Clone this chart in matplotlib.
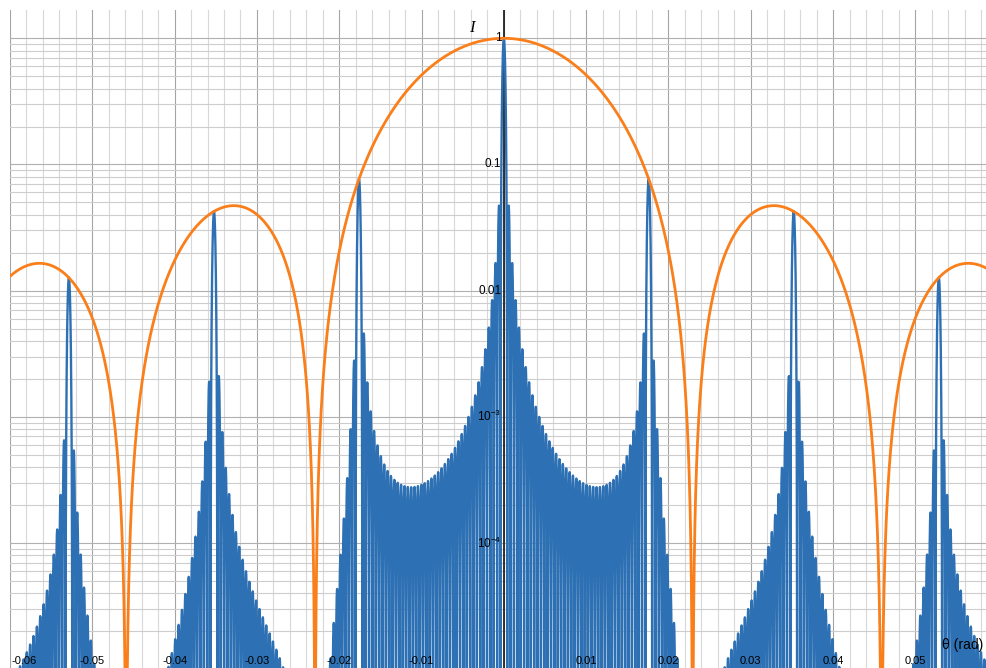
import numpy as np
import matplotlib.pyplot as plt
import matplotlib.transforms as mtransforms

# Grating, in units of the wavelength
slit_width = 43.6      # envelope zeros at about +-0.0229 rad
slit_spacing = 56.8    # principal maxima at about +-0.0176 rad
n_slits = 43

theta_limits = (-0.06, 0.0587)
intensity_limits = (10 ** -4.99, 1.676)

x_ticks = [-0.06, -0.05, -0.04, -0.03, -0.02, -0.01, 0.01, 0.02, 0.03, 0.04, 0.05]
x_tick_labels = ['-0.06', '-0.05', '-0.04', '-0.03', '-0.02', '-0.01',
                 '0.01', '0.02', '0.03', '0.04', '0.05']
y_ticks = [1, 0.1, 0.01, 1e-3, 1e-4]
y_tick_labels = ['1', '0.1', '0.01', r'$10^{-3}$', r'$10^{-4}$']

blue = '#2d70b3'
orange = '#fa7e19'

plt.rcParams['font.family'] = ['Liberation Sans', 'DejaVu Sans']
plt.rcParams['mathtext.fontset'] = 'custom'
plt.rcParams['mathtext.rm'] = 'Liberation Sans'
plt.rcParams['mathtext.it'] = 'Liberation Sans:italic'


def grating_curves(theta):
    # single slit envelope and the full N-slit pattern
    s = np.sin(theta)
    envelope = np.sinc(slit_width * s) ** 2
    gamma = np.pi * slit_spacing * s
    num = np.sin(n_slits * gamma)
    den = n_slits * np.sin(gamma)
    ratio = np.ones_like(theta)
    ok = np.abs(den) > 1e-9
    ratio[ok] = num[ok] / den[ok]
    intensity = envelope * ratio ** 2
    return np.clip(envelope, 1e-12, None), np.clip(intensity, 1e-12, None)


theta = np.linspace(theta_limits[0], theta_limits[1], 400001)
envelope, intensity = grating_curves(theta)

fig = plt.figure(figsize=(9.87, 6.68), dpi=100)
ax = fig.add_axes([10 / 987, 0, 977 / 987, 658 / 668])
ax.set_yscale('log')
ax.set_xlim(*theta_limits)
ax.set_ylim(*intensity_limits)

# Grid, desmos style
for xv in np.arange(-0.06, 0.0601, 0.002):
    major = abs(xv / 0.01 - round(xv / 0.01)) < 1e-6
    ax.axvline(xv, color='#a4a4a4' if major else '#d8d8d8', lw=0.8, zorder=0)
for dec in range(-5, 1):
    for m in range(1, 10):
        yv = m * 10.0 ** dec
        if yv > 1.0001:
            continue
        ax.axhline(yv, color='#b0b0b0' if m == 1 else '#cdcdcd', lw=0.8, zorder=0)

ax.axvline(0, color='#222222', lw=1.3, zorder=1)

ax.plot(theta, intensity, color=blue, lw=1.7, zorder=2)
ax.plot(theta, envelope, color=orange, lw=2.0, zorder=3)

ax.set_xticks([])
ax.set_yticks([])
ax.minorticks_off()
for s in ax.spines.values():
    s.set_visible(False)

# x tick labels pinned to the bottom
trans_x = mtransforms.blended_transform_factory(ax.transData, ax.transAxes)
for xv, lab in zip(x_ticks, x_tick_labels):
    if xv == x_ticks[0]:
        ax.text(xv + 0.0002, 0.011, lab, transform=trans_x, ha='left', va='center', fontsize=8)
    else:
        ax.text(xv, 0.011, lab, transform=trans_x, ha='center', va='center', fontsize=8)

# y tick labels along the vertical axis
for yv, lab in zip(y_ticks, y_tick_labels):
    ax.text(-0.0003, yv, lab, ha='right', va='center', fontsize=8.5, zorder=4)

ax.text(-0.0039, 1.21, 'I', fontsize=12, family='Liberation Serif', style='italic',
        ha='center', va='center')
ax.text(0.0557, 0.035, 'θ (rad)', transform=trans_x, fontsize=10, ha='center', va='center')

fig.savefig('out.png', dpi=100)
